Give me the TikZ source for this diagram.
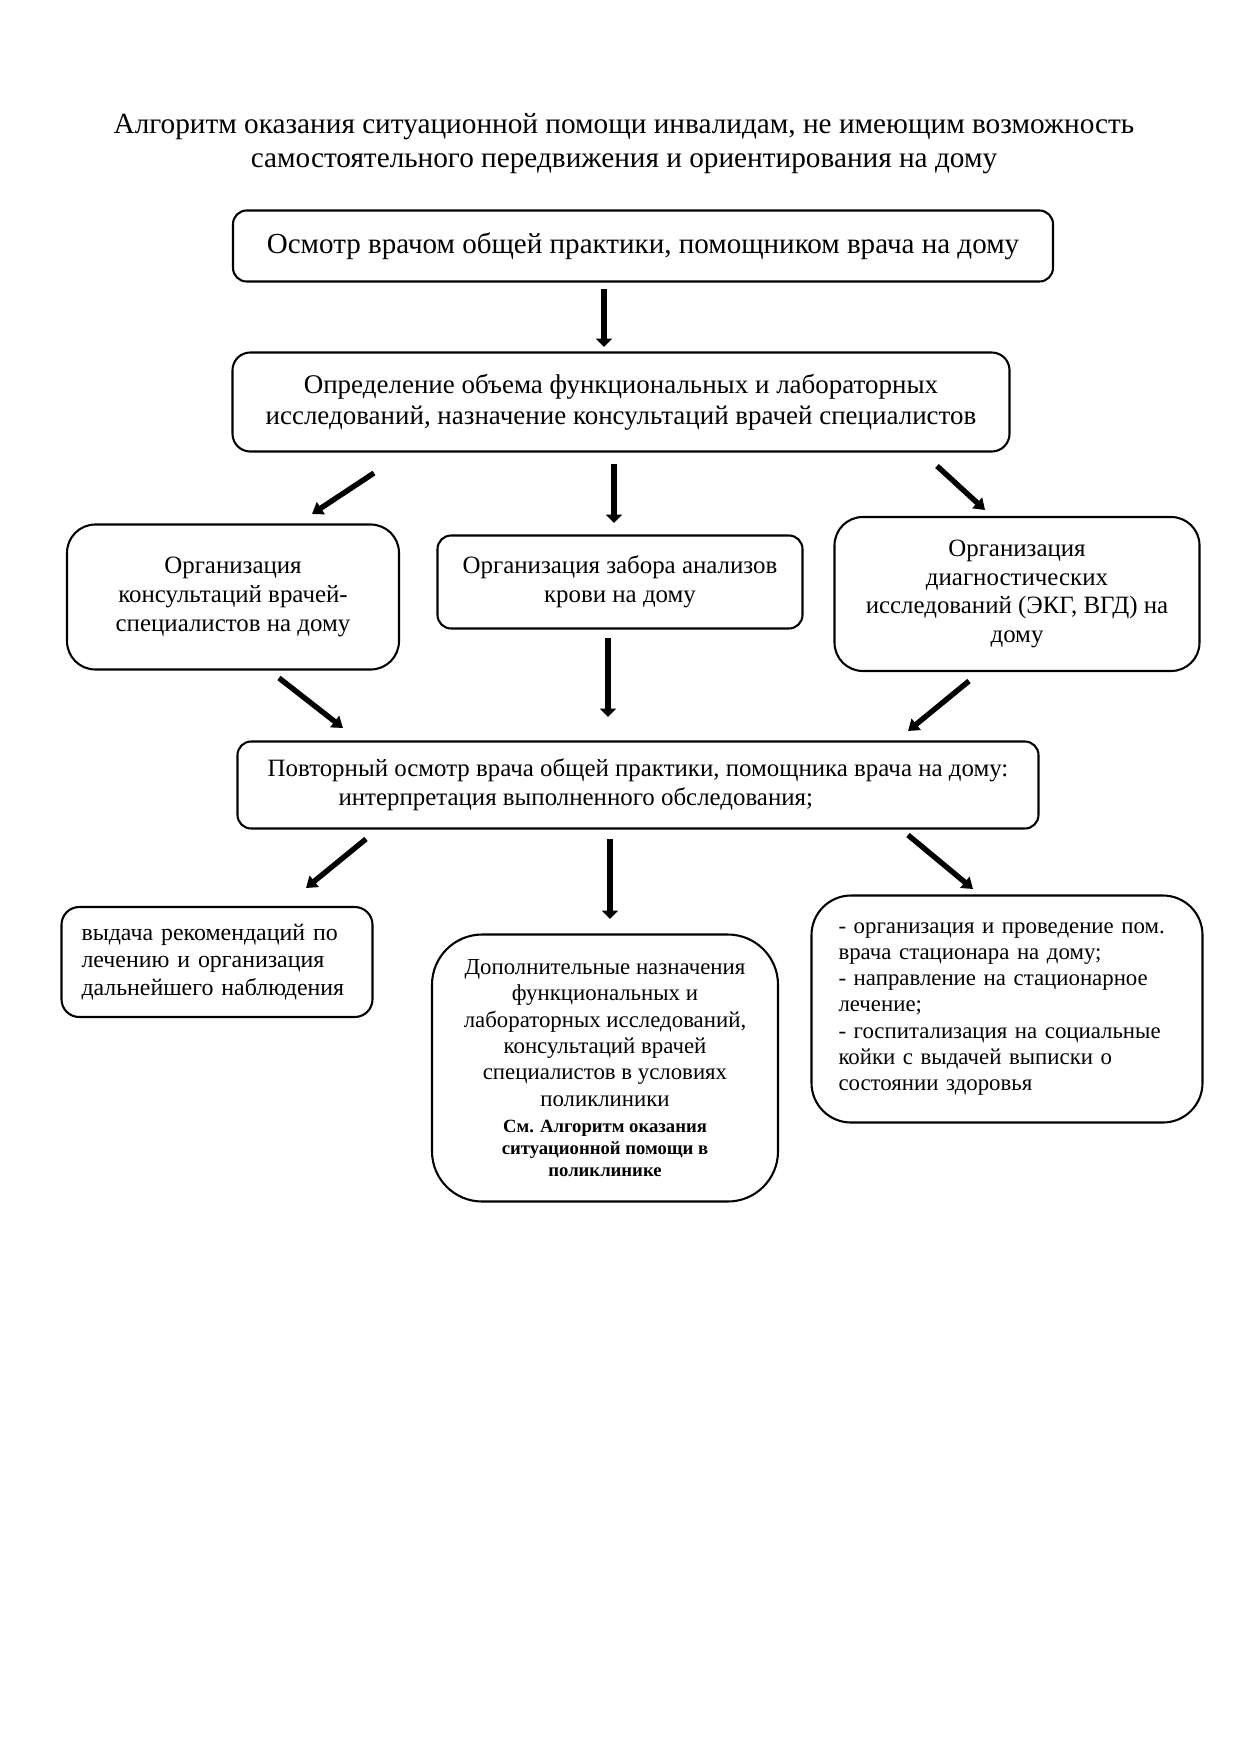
\documentclass[tikz,border=0pt]{standalone}
\usepackage{fontspec}
\setmainfont{Liberation Serif}
\usetikzlibrary{arrows.meta}
\newcommand{\fs}[2]{\fontsize{#1}{#2}\selectfont}
\begin{document}
\begin{tikzpicture}[x=0.169355mm, y=-0.169355mm,
  box/.style={draw, line width=1pt, inner sep=0pt, align=center},
  varr/.style={line width=3.2pt, -{Triangle[length=1.4mm, width=2.7mm]}},
  darr/.style={line width=2.6pt, -{Triangle[length=1.8mm, width=2.4mm]}}]
\useasboundingbox (0,0) rectangle (1240,1755);
% title
\node[align=center, font=\fs{14.1}{16.3}] (title) at (624,144)
  {Алгоритм оказания ситуационной помощи инвалидам, не имеющим возможность\\
   самостоятельного передвижения и ориентирования на дому};
% boxes
\node[box, rounded corners=2.3mm, minimum width={820*0.169355mm}, minimum height={71*0.169355mm}, font=\fs{14}{16.3}]
  (b1) at (643,246) {Осмотр врачом общей практики, помощником врача на дому};
\node[box, rounded corners=3mm, minimum width={777*0.169355mm}, minimum height={99*0.169355mm}, font=\fs{13}{15.1}]
  (b2) at (621,402) {Определение объема функциональных и лабораторных\\
   исследований, назначение консультаций врачей специалистов};
\node[box, rounded corners=4.8mm, minimum width={332*0.169355mm}, minimum height={145*0.169355mm}, font=\fs{12}{13.8}]
  (b3a) at (233,597) {Организация\\консультаций врачей-\\специалистов на дому};
\node[box, rounded corners=2.3mm, minimum width={365*0.169355mm}, minimum height={93*0.169355mm}, font=\fs{12}{13.8}]
  (b3b) at (620,582) {Организация забора анализов\\крови на дому};
\node[box, rounded corners=4.8mm, minimum width={365*0.169355mm}, minimum height={154*0.169355mm}, font=\fs{12}{13.8}]
  (b3c) at (1017,594) {Организация\\диагностических\\исследований (ЭКГ, ВГД) на\\дому};
\node[box, rounded corners=2.3mm, minimum width={801*0.169355mm}, minimum height={87*0.169355mm}, font=\fs{12}{14}, align=left]
  (b4) at (638,785) {Повторный осмотр врача общей практики, помощника врача на дому:\\
   \hspace*{12mm}интерпретация выполненного обследования;};
\node[box, rounded corners=3mm, minimum width={311*0.169355mm}, minimum height={110*0.169355mm}, font=\fs{11.5}{13.1}, align=left, text width={271*0.169355mm}]
  (b5a) at (217,962) {\mbox{выдача рекомендаций по}\\\mbox{лечению и организация}\\\mbox{дальнейшего наблюдения}};
\node[box, rounded corners=8.5mm, minimum width={346*0.169355mm}, minimum height={267*0.169355mm}, font=\fs{11}{12.7}]
  (b5b) at (605,1068) {Дополнительные назначения\\функциональных и\\лабораторных исследований,\\консультаций врачей\\специалистов в условиях\\поликлиники\\
   \parbox[t]{50mm}{\centering\fs{9}{10.6}\bfseries См. Алгоритм оказания\\ситуационной помощи в\\поликлинике}};
\node[box, rounded corners=6.7mm, minimum width={391*0.169355mm}, minimum height={227*0.169355mm}, font=\fs{11}{12.6}, align=left, text width={337*0.169355mm}]
  (b5c) at (1007,1009) {\mbox{- организация и проведение пом.}\\\mbox{врача стационара на дому;}\\\mbox{- направление на стационарное}\\лечение;\\\mbox{- госпитализация на социальные}\\\mbox{койки с выдачей выписки о}\\состоянии здоровья};
% arrow end points
\coordinate (a1s) at (604,289);  \coordinate (a1e) at (604,347);
\coordinate (a2ls) at (374,473); \coordinate (a2le) at (312,514);
\coordinate (a2ms) at (614,464); \coordinate (a2me) at (614,523);
\coordinate (a2rs) at (937,466); \coordinate (a2re) at (985,510);
\coordinate (a3ls) at (279,678); \coordinate (a3le) at (343,728);
\coordinate (a3ms) at (608,638); \coordinate (a3me) at (608,717);
\coordinate (a3rs) at (969,681); \coordinate (a3re) at (908,731);
\coordinate (a4ls) at (366,839); \coordinate (a4le) at (306,888);
\coordinate (a4ms) at (610,839); \coordinate (a4me) at (610,919);
\coordinate (a4rs) at (908,835); \coordinate (a4re) at (973,889);
\foreach \a in {a1,a2m,a3m,a4m}
  \draw[varr] (\a s) -- (\a e);
\foreach \a in {a2l,a2r,a3l,a3r,a4l,a4r}
  \draw[darr] (\a s) -- (\a e);
\end{tikzpicture}
\end{document}
